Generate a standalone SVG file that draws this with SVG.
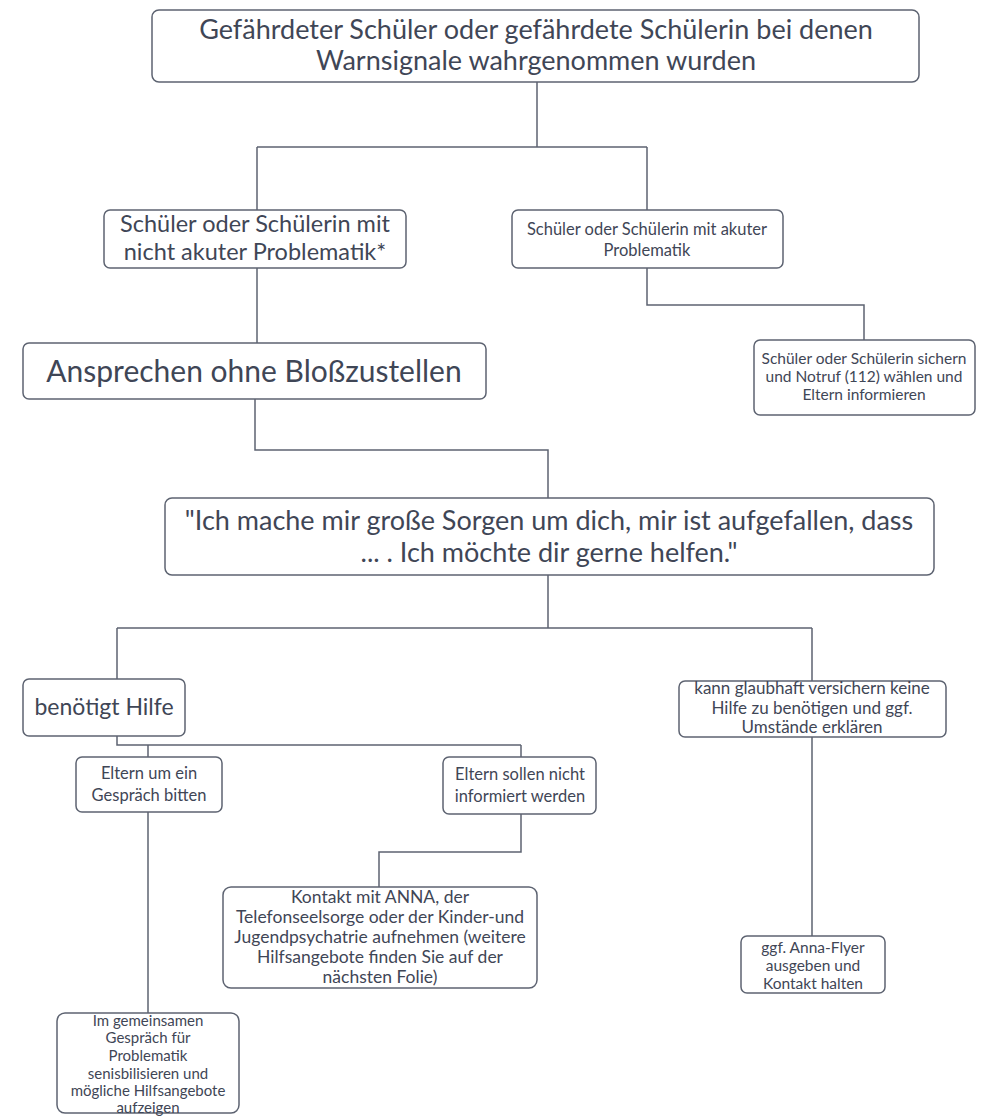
<svg xmlns="http://www.w3.org/2000/svg" width="983" height="1116" viewBox="0 0 983 1116">
<style>
.box{fill:#fff;stroke:#5d6371;stroke-width:1.5}
.t{font-family:Lato,"Liberation Sans",sans-serif;fill:#3f4656;text-anchor:middle}
.c{fill:none;stroke:#5d6371;stroke-width:1.5}
</style>
<rect width="983" height="1116" fill="#fff"/>
<g id="connectors">
<path class="c" d="M537 82V147M257 147H647M257 147V210M647 147V210"/>
<path class="c" d="M647 268V305H864V340"/>
<path class="c" d="M257 268V343"/>
<path class="c" d="M255 399V450H548V498"/>
<path class="c" d="M548 575V628M117 628H812M117 628V679M812 628V681"/>
<path class="c" d="M117 736V745H521M148 745V757M521 745V757"/>
<path class="c" d="M521 814V852H379V887"/>
<path class="c" d="M148 812V1013"/>
<path class="c" d="M812 737V936"/>
</g>
<g id="n1"><rect class="box" x="152" y="10" width="767" height="72" rx="7"/>
<text class="t" font-size="27"><tspan x="536" y="39">Gefährdeter Schüler oder gefährdete Schülerin bei denen</tspan><tspan x="536" y="70">Warnsignale wahrgenommen wurden</tspan></text></g>
<g id="n2"><rect class="box" x="104" y="210" width="302" height="58" rx="6"/>
<text class="t" font-size="23.5"><tspan x="255" y="232">Schüler oder Schülerin mit</tspan><tspan x="255" y="260">nicht akuter Problematik*</tspan></text></g>
<g id="n3"><rect class="box" x="512" y="210" width="271" height="58" rx="6"/>
<text class="t" font-size="16.5"><tspan x="647" y="235">Schüler oder Schülerin mit akuter</tspan><tspan x="647" y="256">Problematik</tspan></text></g>
<g id="n4"><rect class="box" x="754" y="340" width="221" height="75" rx="6"/>
<text class="t" font-size="15.5"><tspan x="864" y="364">Schüler oder Schülerin sichern</tspan><tspan x="864" y="382">und Notruf (112) wählen und</tspan><tspan x="864" y="400">Eltern informieren</tspan></text></g>
<g id="n5"><rect class="box" x="23" y="343" width="463" height="56" rx="6"/>
<text class="t" font-size="30"><tspan x="254" y="382">Ansprechen ohne Bloßzustellen</tspan></text></g>
<g id="n6"><rect class="box" x="165" y="498" width="769" height="77" rx="7"/>
<text class="t" font-size="27"><tspan x="549" y="530">"Ich mache mir große Sorgen um dich, mir ist aufgefallen, dass</tspan><tspan x="549" y="562">... . Ich möchte dir gerne helfen."</tspan></text></g>
<g id="n7"><rect class="box" x="23" y="679" width="162" height="57" rx="6"/>
<text class="t" font-size="23"><tspan x="104" y="715">benötigt Hilfe</tspan></text></g>
<g id="n8"><rect class="box" x="679" y="681" width="267" height="56" rx="6"/>
<text class="t" font-size="17"><tspan x="812" y="694">kann glaubhaft versichern keine</tspan><tspan x="812" y="714">Hilfe zu benötigen und ggf.</tspan><tspan x="812" y="733">Umstände erklären</tspan></text></g>
<g id="n9"><rect class="box" x="76" y="757" width="146" height="55" rx="6"/>
<text class="t" font-size="16.5"><tspan x="149" y="779">Eltern um ein</tspan><tspan x="149" y="801">Gespräch bitten</tspan></text></g>
<g id="n10"><rect class="box" x="443" y="757" width="153" height="57" rx="6"/>
<text class="t" font-size="16.5"><tspan x="520" y="780">Eltern sollen nicht</tspan><tspan x="520" y="802">informiert werden</tspan></text></g>
<g id="n11"><rect class="box" x="223" y="887" width="314" height="101" rx="8"/>
<text class="t" font-size="17.5"><tspan x="380" y="903">Kontakt mit ANNA, der</tspan><tspan x="380" y="923">Telefonseelsorge oder der Kinder-und</tspan><tspan x="380" y="943">Jugendpsychatrie aufnehmen (weitere</tspan><tspan x="380" y="963">Hilfsangebote finden Sie  auf der</tspan><tspan x="380" y="983">nächsten Folie)</tspan></text></g>
<g id="n12"><rect class="box" x="741" y="936" width="144" height="57" rx="6"/>
<text class="t" font-size="15.5"><tspan x="813" y="953">ggf. Anna-Flyer</tspan><tspan x="813" y="971">ausgeben und</tspan><tspan x="813" y="989">Kontakt halten</tspan></text></g>
<g id="n13"><rect class="box" x="57" y="1013" width="182" height="100" rx="8"/>
<text class="t" font-size="15"><tspan x="148" y="1026">Im gemeinsamen</tspan><tspan x="148" y="1043">Gespräch für</tspan><tspan x="148" y="1061">Problematik</tspan><tspan x="148" y="1079">senisbilisieren und</tspan><tspan x="148" y="1096">mögliche Hilfsangebote</tspan><tspan x="148" y="1113">aufzeigen</tspan></text></g>
</svg>
